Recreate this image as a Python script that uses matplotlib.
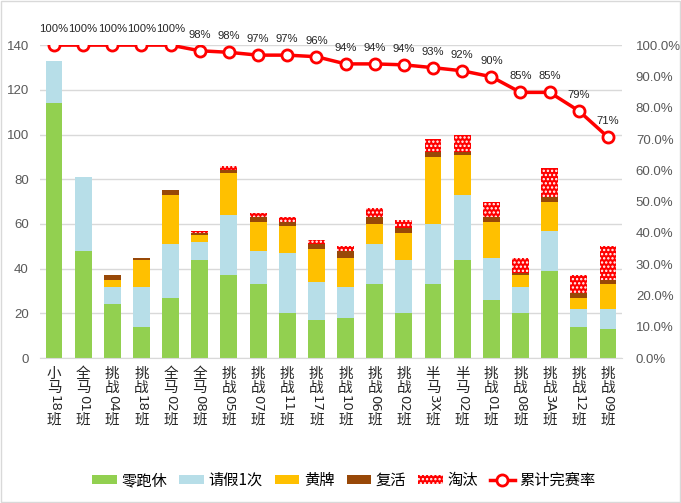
import numpy as np
import matplotlib
matplotlib.use("Agg")
import matplotlib.pyplot as plt
from matplotlib.patches import Patch, Rectangle
from matplotlib.lines import Line2D
from matplotlib.transforms import blended_transform_factory, offset_copy

plt.rcParams['font.family'] = ['Noto Sans CJK SC', 'DejaVu Sans']
plt.rcParams['hatch.linewidth'] = 1.1

# data
classes = ['小马18班', '全马01班', '挑战04班', '挑战18班', '全马02班', '全马08班', '挑战05班',
           '挑战07班', '挑战11班', '挑战17班', '挑战10班', '挑战06班', '挑战02班', '半马3X班',
           '半马02班', '挑战01班', '挑战08班', '挑战3A班', '挑战12班', '挑战09班']
zero_leave = [114, 48, 24, 14, 27, 44, 37, 33, 20, 17, 18, 33, 20, 33, 44, 26, 20, 39, 14, 13]
leave_once = [19, 33, 8, 18, 24, 8, 27, 15, 27, 17, 14, 18, 24, 27, 29, 19, 12, 18, 8, 9]
yellow_card = [0, 0, 3, 12, 22, 3, 19, 13, 12, 15, 13, 9, 12, 30, 18, 16, 5, 13, 5, 11]
revived = [0, 0, 2, 1, 2, 1, 1, 2, 2, 2, 3, 3, 2, 2, 1, 2, 1, 2, 2, 2]
eliminated = [0, 0, 0, 0, 0, 1, 2, 2, 2, 2, 2, 4, 4, 6, 8, 7, 7, 13, 8, 15]
finish_rate = [1.0, 1.0, 1.0, 1.0, 1.0, 0.982, 0.977, 0.968, 0.968, 0.963, 0.94, 0.94, 0.937,
               0.928, 0.918, 0.899, 0.849, 0.849, 0.79, 0.706]

series = [('零跑休', zero_leave, '#92D050', None),
          ('请假1次', leave_once, '#B7DEE8', None),
          ('黄牌', yellow_card, '#FFC000', None),
          ('复活', revived, '#984807', None),
          ('淘汰', eliminated, '#FF0000', '....')]

narrow = ['Liberation Sans Narrow', 'Liberation Sans', 'DejaVu Sans']

fig = plt.figure(figsize=(6.81, 5.03), dpi=100)
ax = fig.add_axes([0.0587, 0.288, 0.8546, 0.6223])
x = np.arange(len(classes))

bottom = np.zeros(len(classes))
for name, vals, col, hatch in series:
    vals = np.array(vals, dtype=float)
    if hatch:
        ax.bar(x, vals, 0.58, bottom=bottom, color=col, edgecolor='white', linewidth=0,
               hatch=hatch, zorder=2)
    else:
        ax.bar(x, vals, 0.58, bottom=bottom, color=col, linewidth=0, zorder=2)
    bottom += vals

ax.set_xlim(-0.48, len(classes) - 0.52)
ax.set_ylim(0, 140)
ax.set_yticks(range(0, 141, 20))
ax.yaxis.grid(True, color='#D9D9D9', linewidth=1)
ax.set_axisbelow(True)
ax.tick_params(axis='y', length=0, labelsize=9.5, colors='#595959', pad=8)
ax.set_xticks([])
for s in ['left', 'right', 'top']:
    ax.spines[s].set_visible(False)
ax.spines['bottom'].set_color('#D9D9D9')

ax2 = ax.twinx()
ax2.set_ylim(0, 1)
ax2.set_yticks(np.arange(0, 1.01, 0.1))
ax2.set_yticklabels(['%.1f%%' % (v * 100) for v in np.arange(0, 1.01, 0.1)])
ax2.tick_params(axis='y', length=0, labelsize=9.5, colors='#595959', pad=10)
for s in ax2.spines.values():
    s.set_visible(False)
for lab in ax.get_yticklabels() + ax2.get_yticklabels():
    lab.set_family(narrow)
ax2.plot(x, finish_rate, color='#FF0000', linewidth=2.5, marker='o', markersize=8,
         markerfacecolor='white', markeredgecolor='#FF0000', markeredgewidth=2, zorder=3)
for xi, r in zip(x, finish_rate):
    ax2.annotate('%d%%' % round(r * 100), (xi, r), xytext=(0, 8), textcoords='offset points',
                 ha='center', va='bottom', fontsize=8.1, color='#262626', family=narrow)

# vertical category labels: chinese chars upright, ascii turned
trans = blended_transform_factory(ax.transData, ax.transAxes)
fs = 10.5
for xi, lab in zip(x, classes):
    tokens = []
    buf = ''
    for ch in lab:
        if ord(ch) < 128:
            buf += ch
        else:
            if buf:
                tokens.append(buf)
                buf = ''
            tokens.append(ch)
    if buf:
        tokens.append(buf)
    y = -9
    for t in tokens:
        if ord(t[0]) < 128:
            tr = offset_copy(trans, fig=fig, x=0, y=y - 1, units='dots')
            ax.text(xi, 0, t, transform=tr, rotation=-90, ha='center', va='top',
                    fontsize=9.5, color='#262626', family='DejaVu Sans')
            y -= len(t) * 8.6 + 1
        else:
            tr = offset_copy(trans, fig=fig, x=0, y=y, units='dots')
            ax.text(xi, 0, t, transform=tr, ha='center', va='top', fontsize=fs,
                    color='#262626', linespacing=1.0)
            y -= 13.5

handles = [Patch(facecolor=c, edgecolor='white' if h else c, linewidth=0, hatch=h, label=n)
           for n, v, c, h in series]
handles.append(Line2D([], [], color='#FF0000', linewidth=2.5, marker='o', markersize=8,
                      markerfacecolor='white', markeredgecolor='#FF0000', markeredgewidth=2,
                      label='累计完赛率'))
fig.legend(handles=handles, loc='center', bbox_to_anchor=(0.505, 0.045), ncol=6, frameon=False,
           fontsize=11, handlelength=1.6, handleheight=0.45, columnspacing=0.8, handletextpad=0.3)

fig.patches.append(Rectangle((0.002, 0.002), 0.996, 0.996, transform=fig.transFigure,
                             fill=False, edgecolor='#D9D9D9', linewidth=1))

fig.savefig('out.png', dpi=100)
